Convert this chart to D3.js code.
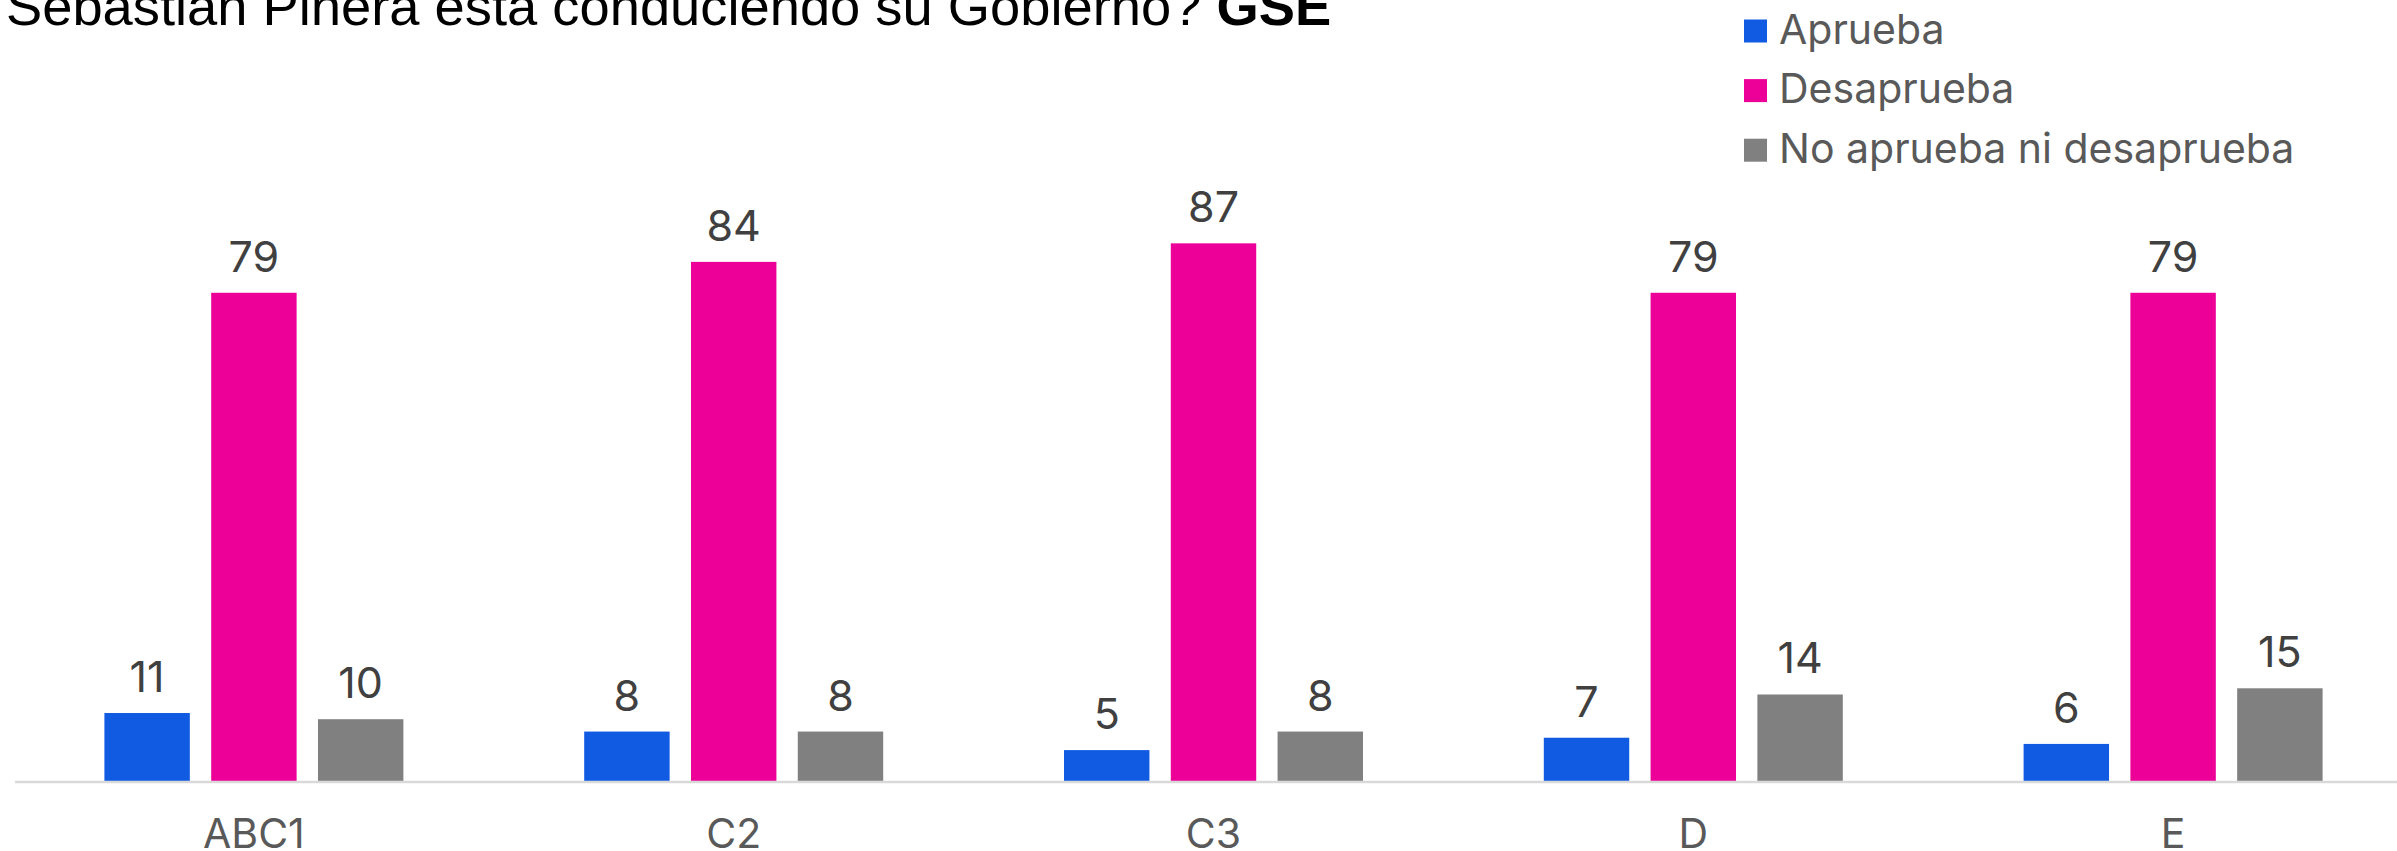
<!DOCTYPE html>
<html>
<head>
<meta charset="utf-8">
<script src="https://cdn.jsdelivr.net/npm/d3@7"></script>
<style>
  html, body { margin: 0; padding: 0; background: #fff; }
  svg { display: block; }
</style>
</head>
<body>
<svg id="chart" width="2397" height="851"></svg>
<script>
// Approval of the government by socioeconomic group (GSE), percentages
const categories = ["ABC1", "C2", "C3", "D", "E"];
const seriesNames = ["Aprueba", "Desaprueba", "No aprueba ni desaprueba"];
const aprueba = [11, 8, 5, 7, 6];
const desaprueba = [79, 84, 87, 79, 79];
const neutral = [10, 8, 8, 14, 15];
const seriesColors = ["#115BE3", "#EC0098", "#808080"];

const seriesValues = [aprueba, desaprueba, neutral];

const svg = d3.select("#chart");
const W = 2397, H = 851;
const baseY = 781;
const labelFont = "Inter, Roboto, 'Noto Sans', sans-serif";

// Scales
const x0 = d3.scaleBand().domain(categories).range([14, 2413]).paddingInner(0).paddingOuter(0);
const groupW = 299;
const x1 = d3.scaleBand()
  .domain(seriesNames)
  .range([(x0.bandwidth() - groupW) / 2, (x0.bandwidth() + groupW) / 2])
  .paddingInner(0.2).paddingOuter(0);
const y = d3.scaleLinear().domain([0, 100]).range([baseY, baseY - 618]);

// Flattened rows for drawing
const rows = [];
categories.forEach((c, i) => {
  seriesNames.forEach((s, j) => {
    rows.push({ cat: c, series: s, value: seriesValues[j][i], color: seriesColors[j] });
  });
});

// Title (second line of the question, partially above the frame)
const title = svg.append("text")
  .attr("x", 6).attr("y", 25)
  .attr("font-family", "'Liberation Sans', Arial, sans-serif")
  .attr("font-size", 54.3)
  .attr("fill", "#000");
title.append("tspan").text("Sebastián Piñera está conduciendo su Gobierno? ");
title.append("tspan").attr("font-weight", "bold").text("GSE");

// Bars
const g = svg.append("g");
g.selectAll("rect.bar")
  .data(rows)
  .join("rect")
  .attr("class", "bar")
  .attr("x", d => x0(d.cat) + x1(d.series))
  .attr("width", x1.bandwidth())
  .attr("y", d => y(d.value))
  .attr("height", d => y(0) - y(d.value))
  .attr("fill", d => d.color);

// Value labels
g.selectAll("text.val")
  .data(rows)
  .join("text")
  .attr("class", "val")
  .attr("x", d => x0(d.cat) + x1(d.series) + x1.bandwidth() / 2)
  .attr("y", d => y(d.value) - 21)
  .attr("text-anchor", "middle")
  .attr("font-family", labelFont)
  .attr("font-size", 43)
  .attr("fill", "#404040")
  .text(d => d.value);

// Category axis
const axis = svg.append("g")
  .attr("transform", `translate(0,${baseY + 1})`)
  .call(d3.axisBottom(x0).tickSize(0).tickPadding(37));
axis.select(".domain")
  .attr("stroke", "#d9d9d9")
  .attr("stroke-width", 2.5)
  .attr("d", `M15,0H${W}`);
axis.selectAll(".tick text")
  .attr("font-family", labelFont)
  .attr("font-size", 41)
  .attr("fill", "#595959");

// Legend
const legend = svg.append("g").attr("transform", "translate(1744,0)");
const legendRows = legend.selectAll("g")
  .data(seriesNames)
  .join("g")
  .attr("transform", (d, i) => `translate(0,${31 + i * 59.6})`);
legendRows.append("rect")
  .attr("x", 0).attr("y", -11.5)
  .attr("width", 23).attr("height", 23)
  .attr("fill", (d, i) => seriesColors[i]);
legendRows.append("text")
  .attr("x", 35).attr("y", 12.5)
  .attr("font-family", labelFont)
  .attr("font-size", 41)
  .attr("fill", "#595959")
  .text(d => d);
</script>
</body>
</html>
